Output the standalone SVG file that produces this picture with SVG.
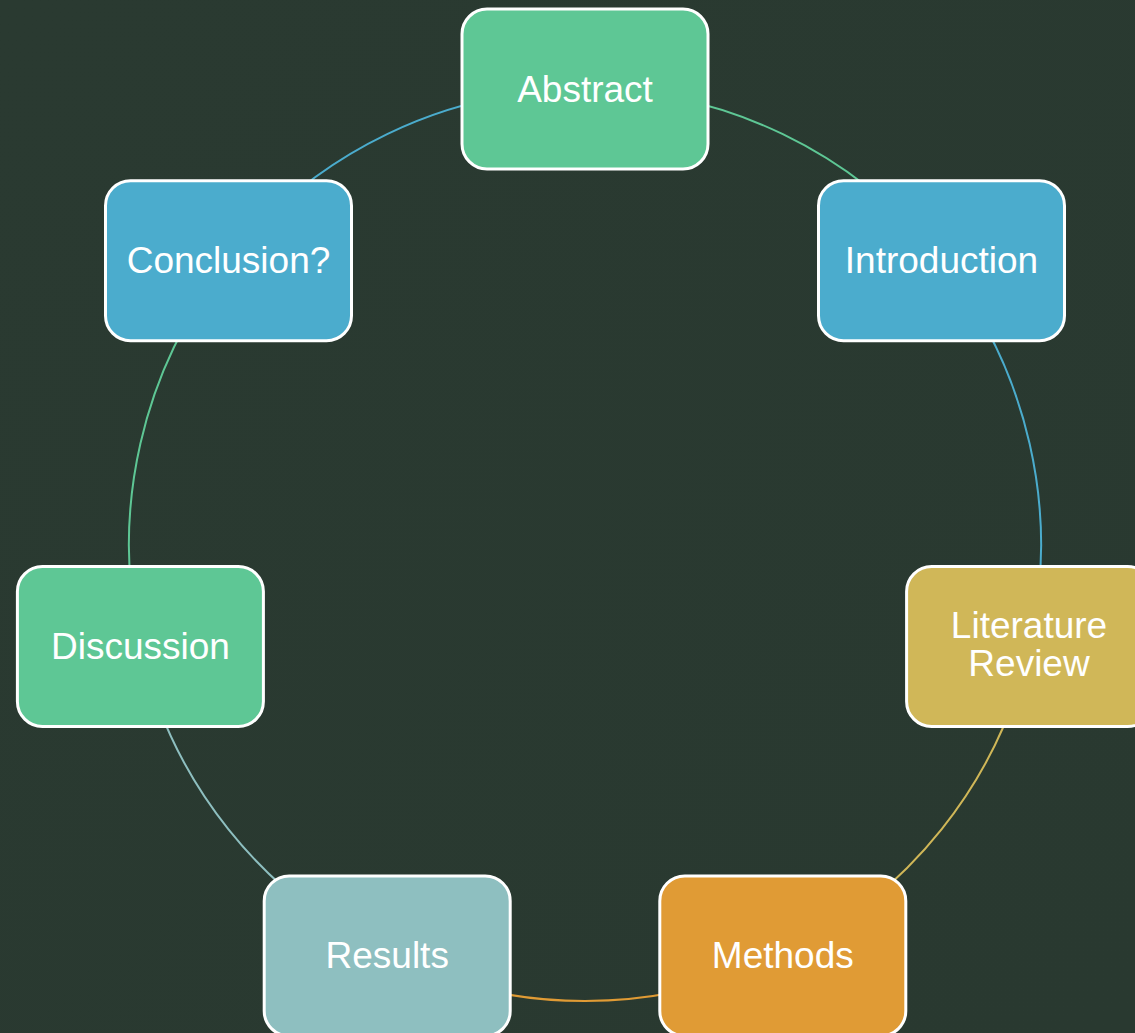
<svg xmlns="http://www.w3.org/2000/svg" width="1135" height="1033" viewBox="0 0 1135 1033">
<defs>
<linearGradient id="bg" x1="0" y1="0" x2="1" y2="1">
<stop offset="0" stop-color="#2A3A31"/>
<stop offset="1" stop-color="#293930"/>
</linearGradient>
</defs>
<style>
.node rect{stroke:#FFFFFF;stroke-width:3}
.node text{font-family:"Liberation Sans",Arial,sans-serif;font-size:37px;fill:#FFFFFF;text-anchor:middle}
.arc{fill:none;stroke-width:2}
</style>
<rect x="0" y="0" width="1135" height="1033" fill="url(#bg)"/>
<g id="connectors">
<path class="arc" stroke="#5EC795" d="M585,89 A456,456 0 0 1 941.5,260.7"/>
<path class="arc" stroke="#4BACCD" d="M941.5,260.7 A456,456 0 0 1 1029.6,646.5"/>
<path class="arc" stroke="#D0B758" d="M1029.6,646.5 A456,456 0 0 1 782.8,955.9"/>
<path class="arc" stroke="#E09B35" d="M782.8,955.9 A456,456 0 0 1 387.2,955.9"/>
<path class="arc" stroke="#8EBFC0" d="M387.2,955.9 A456,456 0 0 1 140.4,646.5"/>
<path class="arc" stroke="#5EC795" d="M140.4,646.5 A456,456 0 0 1 228.5,260.7"/>
<path class="arc" stroke="#4BACCD" d="M228.5,260.7 A456,456 0 0 1 585,89"/>
</g>
<g id="abstract" class="node">
<rect x="462" y="9" width="246" height="160" rx="25" fill="#5EC795"/>
<text x="585" y="101.5">Abstract</text>
</g>
<g id="introduction" class="node">
<rect x="818.5" y="180.7" width="246" height="160" rx="25" fill="#4BACCD"/>
<text x="941.5" y="273">Introduction</text>
</g>
<g id="literature-review" class="node">
<rect x="906.6" y="566.5" width="246" height="160" rx="25" fill="#D0B758"/>
<text x="1029" y="638">Literature</text>
<text x="1029" y="676">Review</text>
</g>
<g id="methods" class="node">
<rect x="659.8" y="875.9" width="246" height="160" rx="25" fill="#E09B35"/>
<text x="782.8" y="968">Methods</text>
</g>
<g id="results" class="node">
<rect x="264.2" y="875.9" width="246" height="160" rx="25" fill="#8EBFC0"/>
<text x="387.2" y="968">Results</text>
</g>
<g id="discussion" class="node">
<rect x="17.4" y="566.5" width="246" height="160" rx="25" fill="#5EC795"/>
<text x="140.4" y="658.5">Discussion</text>
</g>
<g id="conclusion" class="node">
<rect x="105.5" y="180.7" width="246" height="160" rx="25" fill="#4BACCD"/>
<text x="228.5" y="273">Conclusion?</text>
</g>
</svg>
